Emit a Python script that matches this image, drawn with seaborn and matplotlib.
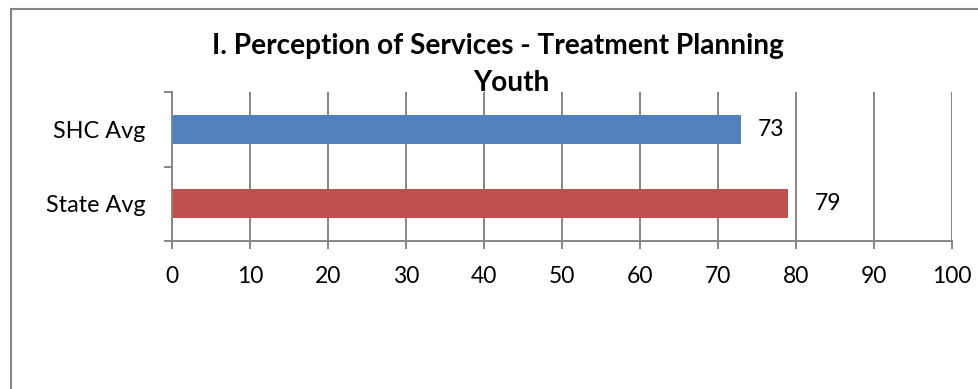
import matplotlib
matplotlib.use("Agg")
import matplotlib.pyplot as plt
import matplotlib.ticker as mticker
from matplotlib.patches import Rectangle
import seaborn as sns
import pandas as pd

# Chart data
categories = ["SHC Avg", "State Avg"]
values = [73, 79]
bar_colors = ["#4F81BD", "#C0504D"]
x_ticks = [0, 10, 20, 30, 40, 50, 60, 70, 80, 90, 100]
title_line1 = "I. Perception of Services - Treatment Planning"
title_line2 = "Youth"

sns.set_theme(style="white")
plt.rcParams["font.family"] = ["Lato", "DejaVu Sans"]

W, H = 979, 389
fig = plt.figure(figsize=(W / 100, H / 100), dpi=100)
fig.patch.set_facecolor("white")

# Plot area in pixel coordinates
left, right, top, bottom = 172, 952, 92, 241
ax = fig.add_axes([left / W, 1 - bottom / H, (right - left) / W, (bottom - top) / H])

df = pd.DataFrame({"category": categories, "value": values})
sns.barplot(data=df, x="value", y="category", hue="category",
            palette=bar_colors, width=0.39, orient="h",
            legend=False, ax=ax, saturation=1, linewidth=0)

grey = "#868686"
ax.set_xlim(0, 100)
ax.set_ylim(1.5, -0.5)
ax.set_xticks(x_ticks)
ax.set_xticklabels([str(t) for t in x_ticks])
ax.xaxis.grid(True, color=grey, linewidth=1.4)
ax.set_axisbelow(True)

# Category boundaries get tick marks, category centres get labels
ax.yaxis.set_major_locator(mticker.FixedLocator([-0.5, 0.5, 1.5]))
ax.yaxis.set_major_formatter(mticker.NullFormatter())
ax.yaxis.set_minor_locator(mticker.FixedLocator([0, 1]))
ax.yaxis.set_minor_formatter(mticker.FixedFormatter(categories))
ax.tick_params(axis="y", which="major", length=6, width=1.4, color=grey, direction="out", left=True)
ax.tick_params(axis="y", which="minor", length=0, pad=19, labelsize=16.8, labelcolor="black")
ax.tick_params(axis="x", length=6, width=1.4, color=grey, direction="out", bottom=True,
               pad=12, labelsize=16.5, labelcolor="black")

for side in ["top", "right"]:
    ax.spines[side].set_visible(False)
for side in ["left", "bottom"]:
    ax.spines[side].set_color(grey)
    ax.spines[side].set_linewidth(1.4)

ax.set_xlabel("")
ax.set_ylabel("")

# Value labels next to each bar
label_offsets = [16, 27]
for i, (v, off) in enumerate(zip(values, label_offsets)):
    ax.annotate(str(v), xy=(v, i), xytext=(off * 0.72, 0), textcoords="offset points",
                ha="left", va="center", fontsize=16.5, color="black")

# Title (two lines)
fig.text(498 / W, 1 - 46 / H, title_line1, ha="center", va="center",
         fontsize=20.2, fontweight="bold", color="black")
fig.text(511 / W, 1 - 83 / H, title_line2, ha="center", va="center",
         fontsize=20.2, fontweight="bold", color="black")

# Chart border
fig.patches.append(Rectangle((11 / W, -0.1), 1.2, 1 - 9 / H + 0.1,
                             transform=fig.transFigure, fill=False,
                             edgecolor=grey, linewidth=1.5))

fig.savefig("out.png", dpi=100)
